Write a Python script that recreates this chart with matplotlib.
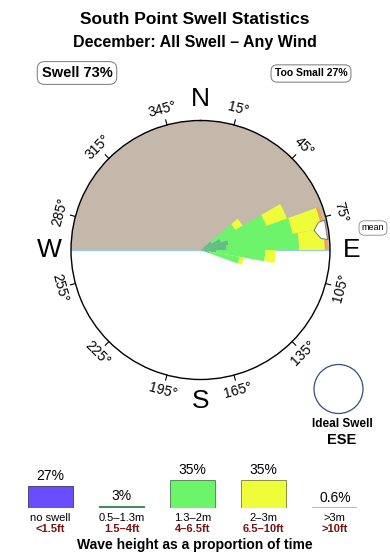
import numpy as np
import matplotlib
matplotlib.use('Agg')
import matplotlib.pyplot as plt
from matplotlib.patches import Ellipse

plt.rcParams['font.family'] = ['Liberation Sans', 'DejaVu Sans']

# rose: direction bins (deg, centre) and radial share per wave height class
dir_bins = [55, 65, 75, 85, 95, 105]
bin_width = 10
small_sw = [0.10, 0.17, 0.22, 0.20, 0.12, 0.07]     # 0.5-1.3m
mid_sw = [0.21, 0.37, 0.50, 0.56, 0.38, 0.235]      # 1.3-2m
big_sw = [0.065, 0.17, 0.23, 0.20, 0.08, 0.035]     # 2-3m
huge_sw = [0.0, 0.0, 0.02, 0.02, 0.0, 0.0]          # >3m
mean_dir = 80.5
ideal_dir = 'ESE'
deg_ticks = [15, 45, 75, 105, 135, 165, 195, 225, 255, 285, 315, 345]
compass = {'N': 0, 'E': 90, 'S': 180, 'W': 270}

# legend
classes = ['no swell', '0.5\u20131.3m', '1.3\u20132m', '2\u20133m', '>3m']
feet = ['<1.5ft', '1.5\u20134ft', '4\u20136.5ft', '6.5\u201310ft', '>10ft']
share = [27, 3, 35, 35, 0.6]
share_txt = ['27%', '3%', '35%', '35%', '0.6%']
leg_colors = ['#6a4dff', '#3f9060', '#6cf56a', '#eefc3a', '#c8aa9c']
leg_edges = ['#3a3a6a', '#3f9060', '#4a7a4a', '#7a7a30', '#c8aa9c']
leg_lw = [0.6, 0.8, 0.6, 0.6, 1.3]

W, H = 390, 560
fig = plt.figure(figsize=(W / 100, H / 100), dpi=100)

def fx(px):
	return px / W

def fy(py):
	return 1 - py / H

fig.text(0.5, fy(19), 'South Point Swell Statistics', ha='center', va='center',
		 fontsize=12.5, fontweight='bold')
fig.text(0.5, fy(43), 'December: All Swell \u2013 Any Wind', ha='center', va='center',
		 fontsize=11.5, fontweight='bold')
fig.text(fx(77), fy(73), 'Swell 73%', ha='center', va='center', fontsize=10.5, fontweight='bold',
		 bbox=dict(boxstyle='round,pad=0.3,rounding_size=0.5', fc='white', ec='#777777', lw=0.7))
fig.text(fx(311), fy(73.5), 'Too Small 27%', ha='center', va='center', fontsize=7.5,
		 fontweight='bold',
		 bbox=dict(boxstyle='round,pad=0.35,rounding_size=0.6', fc='white', ec='#777777', lw=0.7))

# rose
cx, cy, R = 200.5, 250, 129.5
ax = fig.add_axes([fx(cx - R), fy(cy + R), 2 * R / W, 2 * R / H], projection='polar')
ax.set_theta_zero_location('N')
ax.set_theta_direction(-1)
ax.set_ylim(0, 1)
ax.grid(False)
ax.set_xticks([])
ax.set_yticks([])
ax.spines['polar'].set_linewidth(1.0)

# blocked (shadowed) half
ax.bar(0, 1, width=np.pi, bottom=0, color='#c4b8aa', edgecolor='none', zorder=1)
ax.plot([np.pi / 2, np.pi / 2], [0, 1], color='#9ecae1', lw=1, zorder=2)
ax.plot([3 * np.pi / 2, 3 * np.pi / 2], [0, 1], color='#9ecae1', lw=1, zorder=2)

th = np.deg2rad(dir_bins)
wd = np.deg2rad(bin_width)
base = np.zeros(len(dir_bins))
for vals, col in [(small_sw, '#5fbf85'), (mid_sw, '#6cf56a'), (big_sw, '#eefc3a'), (huge_sw, '#f0a050')]:
	ax.bar(th, vals, width=wd, bottom=base, color=col, edgecolor='none', zorder=3)
	base = base + np.array(vals)

# mean direction marker
mt = np.deg2rad(np.array([-4.0, -3.7, -0.2, 4.0, 4.8]) + mean_dir)
mr = [0.985, 0.935, 0.89, 0.935, 0.985]
ax.fill(mt, mr, facecolor='white', edgecolor='#777777', lw=0.7, zorder=5)

for b in deg_ticks:
	t = np.deg2rad(b)
	ax.plot([t, t], [1.0, 1.04], color='k', lw=0.8, clip_on=False, zorder=6)
	if 90 < b < 270:
		rot = 180 - b
	else:
		rot = -b if b < 90 else 360 - b
	ax.text(t, 1.125, '%d\u00b0' % b, rotation=rot, rotation_mode='anchor',
			ha='center', va='center', fontsize=10)
for lab, b in compass.items():
	ax.text(np.deg2rad(b), 1.165, lab, ha='center', va='center', fontsize=19)

fig.text(fx(373), fy(228), 'mean', ha='center', va='center', fontsize=6.5,
		 bbox=dict(boxstyle='round,pad=0.3,rounding_size=0.6', fc='white', ec='#888888', lw=0.6))

# ideal swell
fig.add_artist(Ellipse((fx(338.5), fy(389)), 49 / W, 49 / H, transform=fig.transFigure,
					   fill=False, ec='#30507a', lw=0.9))
fig.text(fx(342), fy(424), 'Ideal Swell', ha='center', va='center', fontsize=8.5, fontweight='bold')
fig.text(fx(342), fy(440), ideal_dir, ha='center', va='center', fontsize=10.5, fontweight='bold')

# legend bars
lax = fig.add_axes([0, fy(508), 1, 32.4 / H])
lax.set_xlim(-0.710, 4.775)
lax.set_ylim(0, 40)
lax.axis('off')
xs = np.arange(len(classes))
lax.bar(xs, share, width=0.633, color=leg_colors, edgecolor=leg_edges, lw=leg_lw)
for i in xs:
	lax.annotate(share_txt[i], (i, share[i]), xytext=(0, 3), textcoords='offset pixels',
				 ha='center', va='bottom', fontsize=10, annotation_clip=False)
	lax.annotate(classes[i], (i, 0), xytext=(0, -10), textcoords='offset pixels',
				 ha='center', va='center', fontsize=8, annotation_clip=False)
	lax.annotate(feet[i], (i, 0), xytext=(0, -21), textcoords='offset pixels',
				 ha='center', va='center', fontsize=8, fontweight='bold', color='#7a1010',
				 annotation_clip=False)

fig.text(0.5, fy(545), 'Wave height as a proportion of time', ha='center', va='center',
		 fontsize=10, fontweight='bold')

fig.savefig('out.png', dpi=100)
